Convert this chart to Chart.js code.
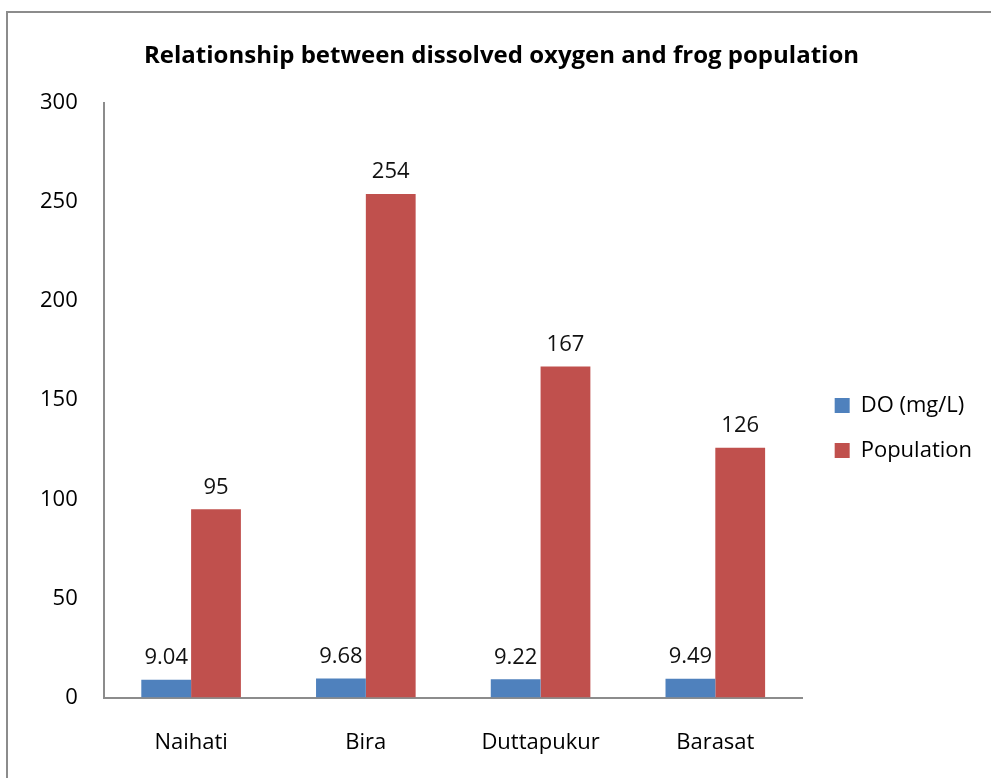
<!DOCTYPE html>
<html>
<head>
<meta charset="utf-8">
<script src="https://cdn.jsdelivr.net/npm/chart.js@4"></script>
<style>
  html, body { margin: 0; padding: 0; background: #fff; }
  #wrap { position: relative; width: 991px; height: 778px; overflow: hidden; }
  #frame { position: absolute; left: 6px; top: 11px; width: 1100px; height: 900px; border: 2px solid #8c8c8c; box-sizing: border-box; }
  canvas { position: absolute; left: 0; top: 0; }
</style>
</head>
<body>
<div id="wrap">
  <div id="frame"></div>
  <canvas id="c" width="991" height="778"></canvas>
</div>
<script>
const categories = ["Naihati", "Bira", "Duttapukur", "Barasat"];
const doValues = [9.04, 9.68, 9.22, 9.49];
const populationValues = [95, 254, 167, 126];
const seriesNames = ["DO (mg/L)", "Population"];
const chartTitle = "Relationship between dissolved oxygen and frog population";

const FONT = "'Open Sans', 'Liberation Sans', sans-serif";
const LEGEND_SHIFT_Y = 14;
const LEGEND_SHIFT_X = 9;
const TITLE_SHIFT_X = 8;
const TITLE_SHIFT_Y = 2;

const valueLabels = {
  id: 'valueLabels',
  afterDatasetsDraw(chart) {
    const ctx = chart.ctx;
    ctx.save();
    ctx.font = "22px " + FONT;
    ctx.fillStyle = "#111";
    ctx.textAlign = "center";
    ctx.textBaseline = "bottom";
    chart.data.datasets.forEach((ds, di) => {
      const meta = chart.getDatasetMeta(di);
      meta.data.forEach((bar, i) => {
        ctx.fillText(String(ds.data[i]), bar.x, bar.y - 11);
      });
    });
    ctx.restore();
  }
};

const boxShift = {
  id: 'boxShift',
  afterLayout(chart) {
    if (chart.legend) {
      chart.legend.top += LEGEND_SHIFT_Y;
      chart.legend.bottom += LEGEND_SHIFT_Y;
      chart.legend.left += LEGEND_SHIFT_X;
      chart.legend.right += LEGEND_SHIFT_X;
    }
    if (chart.titleBlock) {
      chart.titleBlock.left += TITLE_SHIFT_X;
      chart.titleBlock.right += TITLE_SHIFT_X;
      chart.titleBlock.top += TITLE_SHIFT_Y;
      chart.titleBlock.bottom += TITLE_SHIFT_Y;
    }
  }
};

new Chart(document.getElementById('c'), {
  type: 'bar',
  data: {
    labels: categories,
    datasets: [
      { label: seriesNames[0], data: doValues, backgroundColor: '#4F81BD', borderWidth: 0 },
      { label: seriesNames[1], data: populationValues, backgroundColor: '#C0504D', borderWidth: 0 }
    ]
  },
  options: {
    responsive: false,
    animation: false,
    devicePixelRatio: 1,
    layout: { padding: { left: 14, right: 18, top: 40, bottom: -10 } },
    datasets: { bar: { categoryPercentage: 0.57, barPercentage: 1.0 } },
    plugins: {
      title: {
        display: true,
        text: chartTitle,
        font: { family: FONT, size: 24, weight: 'bold' },
        color: '#000',
        padding: { top: 0, bottom: 34 }
      },
      legend: {
        position: 'right',
        labels: {
          font: { family: FONT, size: 22 },
          color: '#000',
          boxWidth: 15,
          boxHeight: 15,
          padding: 23
        }
      },
      tooltip: { enabled: false }
    },
    scales: {
      x: {
        grid: { display: false, drawTicks: false },
        border: { display: true, color: '#8c8c8c', width: 2 },
        ticks: { font: { family: FONT, size: 22 }, color: '#000', padding: 32 }
      },
      y: {
        min: 0, max: 300,
        grid: { display: false, drawTicks: false },
        border: { display: true, color: '#8c8c8c', width: 2 },
        ticks: { stepSize: 50, font: { family: FONT, size: 22 }, color: '#000', padding: 26 }
      }
    }
  },
  plugins: [valueLabels, boxShift]
});
</script>
</body>
</html>
